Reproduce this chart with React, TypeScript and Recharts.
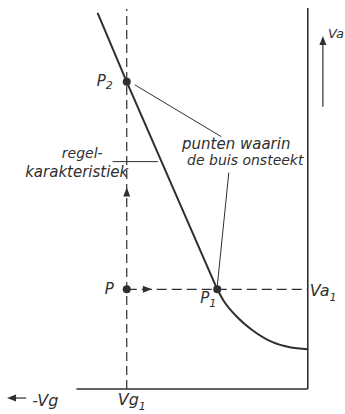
import { ComposedChart, Line, Scatter, XAxis, YAxis, ReferenceDot } from 'recharts';

// Grid voltage Vg (V) along x, anode voltage Va (V) along y
const lineVg = [-20.9, -18, -9];
const lineVa = [377, 308, 100];
const bendVg = [-9, -8.4, -7, -5.5, -3.5, -1.8, 0];
const bendVa = [100, 89, 72, 59, 47, 42, 40];

// working point P = (vg1, va1), ignition points P1 and P2
const vg1 = -18;
const va1 = 100;
const p1Vg = -9;
const p2Va = 308;

const vaAxisTop = 382;
const vgAxisLeft = -23;

const INK = '#2f2f2f';
const FONT = '"DejaVu Sans", sans-serif';

const pts = (xs: number[], ys: number[]) => xs.map((x, i) => ({ x, y: ys[i] }));

// filled triangle with its tip on the point, angle in degrees (0 = right, 90 = up)
const ArrowHead = (props: any) => {
  const { cx, cy, payload } = props;
  const a = (payload.angle * Math.PI) / 180;
  const len = 9;
  const hw = 3.5;
  const bx = cx - Math.cos(a) * len;
  const by = cy + Math.sin(a) * len;
  const px = Math.sin(a) * hw;
  const py = Math.cos(a) * hw;
  return <polygon points={`${cx},${cy} ${bx + px},${by + py} ${bx - px},${by - py}`} fill={INK} />;
};

const Dot = (props: any) => <circle cx={props.cx} cy={props.cy} r={4} fill={INK} />;

const tag =
  (body: React.ReactNode, dx = 0, dy = 0, size = 15) =>
  (p: any) =>
    (
      <text
        x={p.viewBox.x + dx}
        y={p.viewBox.y + dy}
        fontSize={size}
        fontStyle="italic"
        fontFamily={FONT}
        fill={INK}
      >
        {body}
      </text>
    );

const sub = (t: string, dy = 4, size = 11) => (
  <tspan dy={dy} fontSize={size}>
    {t}
  </tspan>
);

const seg = (data: { x: number; y: number }[], width = 1, dash?: string, type: any = 'linear') => (
  <Line
    data={data}
    dataKey="y"
    type={type}
    stroke={INK}
    strokeWidth={width}
    strokeDasharray={dash}
    dot={false}
    activeDot={false}
    isAnimationActive={false}
  />
);

export default function App() {
  return (
    <div style={{ position: 'absolute', left: 0, top: 0, background: '#fff' }}>
      <ComposedChart width={345} height={414} margin={{ top: 0, right: 0, bottom: 0, left: 0 }}>
        <XAxis type="number" dataKey="x" domain={[-30.6, 3.7]} allowDataOverflow hide />
        <YAxis type="number" dataKey="y" domain={[-25, 390]} allowDataOverflow hide />

        {/* frame: Va axis on the right, Vg axis at the bottom */}
        {seg(pts([0, 0], [0, vaAxisTop]), 1.6)}
        {seg(pts([vgAxisLeft, 0], [0, 0]), 1.6)}

        {/* control characteristic and working line through P */}
        {seg(pts([vg1, vg1], [0, 381]), 1.2, '9 5')}
        {seg(pts([vg1, 0], [va1, va1]), 1.2, '10 5')}

        {/* ignition characteristic */}
        {seg(pts(lineVg, lineVa), 2)}
        {seg(pts(bendVg, bendVa), 2, undefined, 'monotone')}

        {/* leader lines */}
        {seg(pts([-17.2, -8.6], [305, 253]), 1)}
        {seg(pts([-7.85, -9.0], [217, 103]), 1)}
        {seg(pts([-19.4, -14.9], [228, 228]), 1)}
        {seg(pts([1.5, 1.5], [283, 346]), 1.2)}
        {seg(pts([-29.4, -28.0], [-9, -9]), 1.2)}

        <Scatter
          data={[
            { x: vg1, y: 202, angle: 90 },
            { x: -15.5, y: va1, angle: 0 },
            { x: 1.5, y: 354, angle: 90 },
            { x: -29.9, y: -9, angle: 180 },
          ]}
          shape={ArrowHead}
          isAnimationActive={false}
        />
        <Scatter
          data={[
            { x: vg1, y: va1 },
            { x: p1Vg, y: va1 },
            { x: vg1, y: p2Va },
          ]}
          shape={Dot}
          isAnimationActive={false}
        />

        <ReferenceDot x={vg1} y={p2Va} r={0} stroke="none" label={tag(<>P{sub('2', 3)}</>, -30, 4)} />
        <ReferenceDot x={vg1} y={va1} r={0} stroke="none" label={tag('P', -22, 5)} />
        <ReferenceDot x={p1Vg} y={va1} r={0} stroke="none" label={tag(<>P{sub('1')}</>, -17, 14)} />
        <ReferenceDot x={0} y={va1} r={0} stroke="none" label={tag(<>Va{sub('1', 5)}</>, 2, 7, 16)} />
        <ReferenceDot x={vg1} y={0} r={0} stroke="none" label={tag(<>Vg{sub('1', 5)}</>, -9, 16, 16)} />
        <ReferenceDot x={-27.4} y={-17} r={0} stroke="none" label={tag('-Vg', 0, 0, 16)} />
        <ReferenceDot x={2.0} y={352} r={0} stroke="none" label={tag('Va', 0, 0, 13)} />

        <ReferenceDot x={-12.5} y={241} r={0} stroke="none" label={tag('punten waarin')} />
        <ReferenceDot x={-12.0} y={225} r={0} stroke="none" label={tag('de buis onsteekt', 0, 0, 14)} />
        <ReferenceDot x={-24.45} y={232} r={0} stroke="none" label={tag('regel-', 0, 0, 14)} />
        <ReferenceDot x={-28.1} y={213} r={0} stroke="none" label={tag('karakteristiek')} />
      </ComposedChart>
    </div>
  );
}
